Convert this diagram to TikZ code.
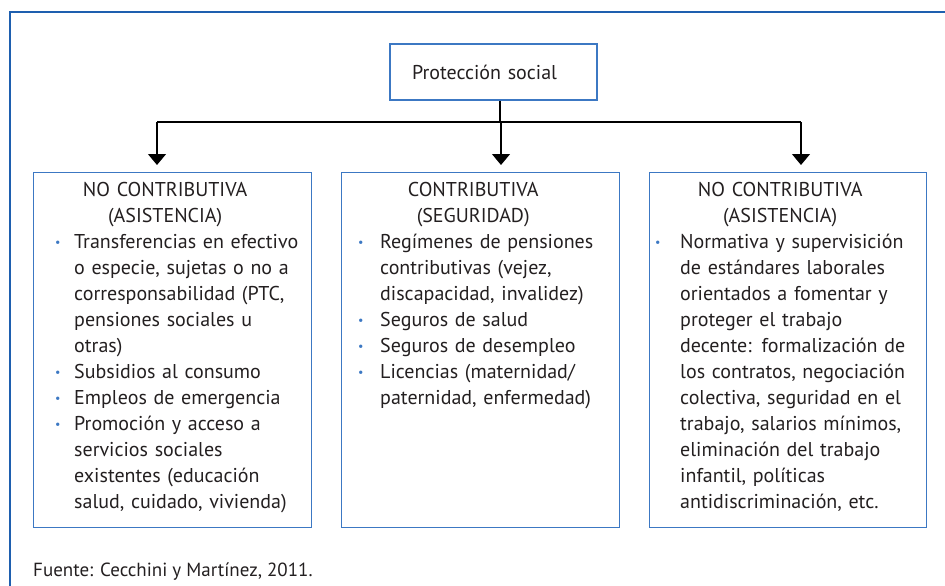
\documentclass[tikz,border=0pt]{standalone}
\usepackage{fontspec}
\setmainfont{PT Sans}
\usetikzlibrary{arrows.meta}

\definecolor{azulmarco}{RGB}{30,95,175}
\definecolor{azulcaja}{RGB}{60,120,195}
\definecolor{texto}{RGB}{35,31,32}

% punto de la lista, las lineas siguientes quedan sangradas
\newcommand{\punto}[1][20pt]{\par\leftskip=#1\noindent%
	\llap{\makebox[#1][l]{\raisebox{2pt}{\textcolor{azulcaja}{\fontsize{12}{12}\selectfont\textbullet}}}}}
\newcommand{\encab}[3]{\rule{0pt}{18pt}\makebox[#1]{#2}\\\makebox[#1]{#3}}

\begin{document}
\begin{tikzpicture}[x=1pt,y=-1pt,
	font=\fontsize{20}{26}\selectfont, text=texto,
	caja/.style={draw=azulcaja, line width=1.2pt, rectangle},
	lista/.style={anchor=north west, inner sep=0, text width=265pt, align=left},
	flecha/.style={-{Triangle[width=18pt,length=11pt]}, line width=1.1pt},
	marco/.style={draw=azulmarco, line width=1.8pt}]
	\useasboundingbox (0,0) rectangle (945,586);
	\draw[marco] (10,586) -- (10,12) -- (945,12);

	\node [caja, minimum height=56pt, text width=163pt, inner xsep=22pt, align=left] (raiz) at (493.5,72) {Protección social};

	% las tres cajas
	\node [caja, minimum width=278pt, minimum height=355pt, anchor=north west] (izq) at (33,172) {};
	\node [caja, minimum width=278pt, minimum height=355pt, anchor=north west] (centro) at (341,172) {};
	\node [caja, minimum width=277pt, minimum height=355pt, anchor=north west] (der) at (649,172) {};

	\node [lista] (lizq) at ([xshift=22pt, yshift=-6pt]izq.north west) {%
		\encab{220pt}{NO CONTRIBUTIVA}{(ASISTENCIA)}
		\punto[19pt]Transferencias en efectivo\\o especie, sujetas o no a\\corresponsabilidad (PTC,\\pensiones sociales u\\otras)
		\punto[19pt]Subsidios al consumo
		\punto[19pt]Empleos de emergencia
		\punto[19pt]Promoción y acceso a\\servicios sociales\\existentes (educación\\salud, cuidado, vivienda)\par};
	\node [lista] (lcentro) at ([xshift=17pt, yshift=-6pt]centro.north west) {%
		\encab{230pt}{CONTRIBUTIVA}{(SEGURIDAD)}
		\punto[22pt]Regímenes de pensiones\\contributivas (vejez,\\discapacidad, invalidez)
		\punto[22pt]Seguros de salud
		\punto[22pt]Seguros de desempleo
		\punto[22pt]Licencias (maternidad/\\paternidad, enfermedad)\par};
	\node [lista] (lder) at ([xshift=6pt, yshift=-6pt]der.north west) {%
		\encab{250pt}{NO CONTRIBUTIVA}{(ASISTENCIA)}
		\punto[25pt]Normativa y supervisición\\de estándares laborales\\orientados a fomentar y\\proteger el trabajo\\decente: formalización de\\los contratos, negociación\\colectiva, seguridad en el\\trabajo, salarios mínimos,\\eliminación del trabajo\\infantil, políticas\\antidiscriminación, etc.\par};

	% conectores
	\coordinate (barra) at (500,122);
	\coordinate (punta1) at (157,165);
	\coordinate (punta2) at (501,165);
	\coordinate (punta3) at (801,165);
	\draw [line width=1.1pt] (barra |- raiz.south) -- (barra);
	\draw [line width=1.1pt] (punta1 |- barra) -- (punta3 |- barra);
	\foreach \i in {1,2,3}
		\draw [flecha] (punta\i |- barra) -- (punta\i);

	\node [anchor=base west, inner sep=0, font=\fontsize{19}{22}\selectfont] (fuente) at (33,576) {Fuente: Cecchini y Martínez, 2011.};
\end{tikzpicture}
\end{document}
